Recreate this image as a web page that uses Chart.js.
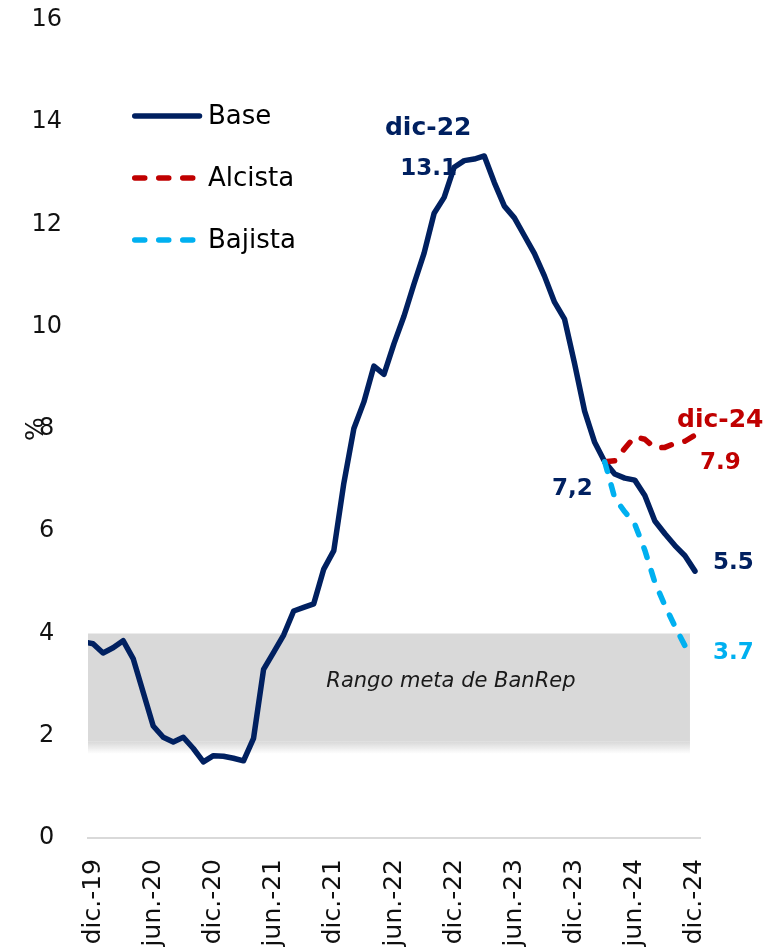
<!DOCTYPE html>
<html>
<head>
<meta charset="utf-8">
<script src="https://cdn.jsdelivr.net/npm/chart.js@4.4.1/dist/chart.umd.min.js"></script>
<style>
  html, body { margin: 0; padding: 0; background: #fff; overflow: hidden; }
  #wrap { width: 764px; height: 950px; position: relative; }
</style>
</head>
<body>
<div id="wrap"><canvas id="mycanvas"></canvas></div>
<script>
// categories (monthly, the first one only feeds the line edge)
var months = [
  'nov.-19', 'dic.-19',
  'ene.-20', 'feb.-20', 'mar.-20', 'abr.-20', 'may.-20', 'jun.-20', 'jul.-20', 'ago.-20', 'sep.-20', 'oct.-20', 'nov.-20', 'dic.-20',
  'ene.-21', 'feb.-21', 'mar.-21', 'abr.-21', 'may.-21', 'jun.-21', 'jul.-21', 'ago.-21', 'sep.-21', 'oct.-21', 'nov.-21', 'dic.-21',
  'ene.-22', 'feb.-22', 'mar.-22', 'abr.-22', 'may.-22', 'jun.-22', 'jul.-22', 'ago.-22', 'sep.-22', 'oct.-22', 'nov.-22', 'dic.-22',
  'ene.-23', 'feb.-23', 'mar.-23', 'abr.-23', 'may.-23', 'jun.-23', 'jul.-23', 'ago.-23', 'sep.-23', 'oct.-23', 'nov.-23', 'dic.-23',
  'ene.-24', 'feb.-24', 'mar.-24', 'abr.-24', 'may.-24', 'jun.-24', 'jul.-24', 'ago.-24', 'sep.-24', 'oct.-24', 'nov.-24', 'dic.-24'
];

var tickLabels = ['dic.-19', 'jun.-20', 'dic.-20', 'jun.-21', 'dic.-21', 'jun.-22',
                  'dic.-22', 'jun.-23', 'dic.-23', 'jun.-24', 'dic.-24'];

var base = [
  3.84, 3.80,
  3.62, 3.72, 3.86, 3.51, 2.85, 2.19, 1.97, 1.88, 1.97, 1.75, 1.49, 1.61,
  1.60, 1.56, 1.51, 1.95, 3.30, 3.63, 3.97, 4.44, 4.51, 4.58, 5.26, 5.62,
  6.94, 8.01, 8.53, 9.23, 9.07, 9.67, 10.21, 10.84, 11.44, 12.22, 12.53, 13.12,
  13.25, 13.28, 13.34, 12.82, 12.36, 12.13, 11.78, 11.43, 10.99, 10.48, 10.15, 9.28,
  8.35, 7.74, 7.36, 7.12, 7.04, 7.00, 6.70, 6.20, 5.95, 5.72, 5.52, 5.22
];

var forecastMonths = ['mar.-24', 'abr.-24', 'may.-24', 'jun.-24', 'jul.-24',
                      'ago.-24', 'sep.-24', 'oct.-24', 'nov.-24', 'dic.-24'];
var alcista = [7.36, 7.38, 7.62, 7.85, 7.80, 7.63, 7.64, 7.72, 7.76, 7.88];
var bajista = [7.36, 6.65, 6.38, 6.14, 5.63, 5.00, 4.55, 4.14, 3.76, 3.68];

// BanRep target range
var metaLow = 2;
var metaHigh = 4;

var NAVY = '#002060';
var RED = '#C00000';
var SKY = '#00B0F0';
var FONT = '"DejaVu Sans", sans-serif';

function padForecast(vals) {
  var out = [];
  for (var i = 0; i < months.length; i++) {
    var k = forecastMonths.indexOf(months[i]);
    out.push(k >= 0 ? vals[k] : null);
  }
  return out;
}

// gray band + its caption + point labels, under the lines
var bandPlugin = {
  id: 'metaBand',
  beforeDatasetsDraw: function(chart) {
    var ctx = chart.ctx, a = chart.chartArea;
    var xs = chart.scales.x, ys = chart.scales.y;
    var yTop = ys.getPixelForValue(metaHigh);
    var yLow = ys.getPixelForValue(metaLow);
    var xRight = (xs.getPixelForValue(months.indexOf('nov.-24')) + xs.getPixelForValue(months.indexOf('dic.-24'))) / 2;

    ctx.save();
    ctx.fillStyle = '#D9D9D9';
    ctx.fillRect(a.left, yTop, xRight - a.left, yLow + 6 - yTop);
    var g = ctx.createLinearGradient(0, yLow + 6, 0, yLow + 18);
    g.addColorStop(0, 'rgba(217,217,217,1)');
    g.addColorStop(1, 'rgba(217,217,217,0)');
    ctx.fillStyle = g;
    ctx.fillRect(a.left, yLow + 6, xRight - a.left, 12);

    ctx.fillStyle = '#1a1a1a';
    ctx.font = 'italic 21px ' + FONT;
    ctx.textAlign = 'center';
    ctx.textBaseline = 'middle';
    ctx.fillText('Rango meta de BanRep', a.left + (a.right - a.left) * 0.593, ys.getPixelForValue(3) - 3);

    function at(label, v) {
      return [xs.getPixelForValue(months.indexOf(label)), ys.getPixelForValue(v)];
    }
    function note(txt, p, dx, dy, color, size, align) {
      ctx.fillStyle = color;
      ctx.font = 'bold ' + size + 'px ' + FONT;
      ctx.textAlign = align;
      ctx.fillText(txt, p[0] + dx, p[1] + dy);
    }
    var pk = at('dic.-22', base[months.indexOf('dic.-22')]);
    note('dic-22', pk, -26, -39, NAVY, 25, 'center');
    note('13.1', pk, -54, 2, NAVY, 23, 'left');
    var jn = at('mar.-24', base[months.indexOf('mar.-24')]);
    note('7,2', jn, -12, 27, NAVY, 23, 'right');
    var up = at('dic.-24', alcista[alcista.length - 1]);
    note('dic-24', up, -18, -15, RED, 25, 'left');
    note('7.9', up, 5, 28, RED, 23, 'left');
    var bs = at('dic.-24', base[base.length - 1]);
    note('5.5', bs, 18, -8, NAVY, 23, 'left');
    var dn = at('dic.-24', bajista[bajista.length - 1]);
    note('3.7', dn, 18, 3, SKY, 23, 'left');
    ctx.restore();
  }
};

// vertical legend inside the plot, top left
var legendPlugin = {
  id: 'sideLegend',
  afterDatasetsDraw: function(chart) {
    var ctx = chart.ctx, a = chart.chartArea;
    chart.data.datasets.forEach(function(ds, i) {
      var y = a.top + 96 + i * 62;
      var x0 = a.left + 44;
      ctx.save();
      ctx.strokeStyle = ds.borderColor;
      ctx.lineWidth = ds.borderWidth;
      ctx.lineCap = 'round';
      ctx.setLineDash(ds.borderDash || []);
      ctx.beginPath();
      ctx.moveTo(x0 + 2.75, y);
      ctx.lineTo(x0 + 67.5, y);
      ctx.stroke();
      ctx.setLineDash([]);
      ctx.fillStyle = '#000';
      ctx.font = '26px ' + FONT;
      ctx.textAlign = 'left';
      ctx.textBaseline = 'middle';
      ctx.fillText(ds.label, x0 + 76, y + 1);
      ctx.restore();
    });
  }
};

var chartdata = {
  labels: months,
  datasets: [
    {
      label: 'Base',
      data: base,
      borderColor: NAVY,
      borderWidth: 5.5,
      borderCapStyle: 'round',
      borderJoinStyle: 'round',
      pointRadius: 0,
      tension: 0,
      fill: false,
      order: 3,
      clip: { left: 0, top: false, right: false, bottom: false }
    },
    {
      label: 'Alcista',
      data: padForecast(alcista),
      borderColor: RED,
      borderWidth: 5.5,
      borderDash: [10, 14],
      borderCapStyle: 'round',
      borderJoinStyle: 'round',
      pointRadius: 0,
      tension: 0,
      fill: false,
      order: 2,
      clip: false
    },
    {
      label: 'Bajista',
      data: padForecast(bajista),
      borderColor: SKY,
      borderWidth: 5.5,
      borderDash: [10, 14],
      borderCapStyle: 'round',
      borderJoinStyle: 'round',
      pointRadius: 0,
      tension: 0,
      fill: false,
      order: 1,
      clip: false
    }
  ]
};

var ctx = document.getElementById('mycanvas');

var LineGraph = new Chart(ctx, {
  type: 'line',
  data: chartdata,
  plugins: [bandPlugin, legendPlugin],
  options: {
    responsive: true,
    maintainAspectRatio: false,
    animation: false,
    layout: { padding: { top: 20, right: 64, left: 0, bottom: 0 } },
    plugins: {
      legend: { display: false },
      tooltip: { enabled: false }
    },
    scales: {
      x: {
        type: 'category',
        min: 'dic.-19',
        offset: true,
        grid: { display: false, drawTicks: false },
        border: { display: true, color: '#D9D9D9', width: 2 },
        ticks: {
          autoSkip: false,
          minRotation: 90,
          maxRotation: 90,
          padding: 21,
          color: '#111',
          font: { family: FONT, size: 25 },
          callback: function(v) {
            var l = this.getLabelForValue(v);
            return tickLabels.indexOf(l) >= 0 ? l : '';
          }
        },
        afterFit: function(s) { s.height = 112; }
      },
      y: {
        min: 0,
        max: 16,
        grid: { display: false, drawTicks: false },
        border: { display: false },
        title: {
          display: true,
          text: '%',
          color: '#111',
          font: { family: FONT, size: 25 },
          padding: { top: 21, bottom: 0 }
        },
        ticks: {
          stepSize: 2,
          padding: 26,
          crossAlign: 'center',
          color: '#111',
          font: { family: FONT, size: 24 }
        },
        afterFit: function(s) {
          s.width = 88;
          s.paddingTop = 0;
          s.paddingBottom = 0;
        }
      }
    }
  }
});
</script>
</body>
</html>
